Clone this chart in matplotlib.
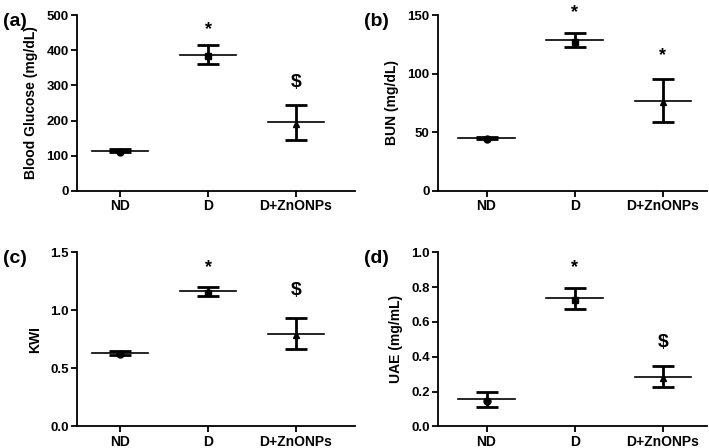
import matplotlib
matplotlib.use('Agg')
import matplotlib.pyplot as plt

plt.rcParams['font.family'] = ['Liberation Sans', 'DejaVu Sans']
plt.rcParams['font.weight'] = 'bold'

groups = ['ND', 'D', 'D+ZnONPs']
markers = ['o', 's', '^']

glucose_mean = [114, 387, 195]
glucose_err = [4, 27, 50]

bun_mean = [45.2, 128.5, 77]
bun_err = [1.2, 6, 18.5]

kwi_mean = [0.632, 1.165, 0.80]
kwi_err = [0.018, 0.04, 0.135]

uae_mean = [0.155, 0.735, 0.286]
uae_err = [0.044, 0.06, 0.058]

sig_a = ['', '*', '$']
sig_a_y = [0, 458, 307]
sig_b = ['', '*', '*']
sig_b_y = [0, 152, 115]
sig_c = ['', '*', '$']
sig_c_y = [0, 1.37, 1.17]
sig_d = ['', '*', '$']
sig_d_y = [0, 0.91, 0.48]

panels = [
    ('(a)', 'Blood Glucose (mg/dL)', glucose_mean, glucose_err, 500, [0, 100, 200, 300, 400, 500],
     ['0', '100', '200', '300', '400', '500'], sig_a, sig_a_y,
     [0.1086, 0.5737, 0.3921, 0.3928], (-0.49, 2.67)),
    ('(b)', 'BUN (mg/dL)', bun_mean, bun_err, 150, [0, 50, 100, 150],
     ['0', '50', '100', '150'], sig_b, sig_b_y,
     [0.6178, 0.5737, 0.3792, 0.3928], (-0.55, 2.5)),
    ('(c)', 'KWI', kwi_mean, kwi_err, 1.5, [0, 0.5, 1.0, 1.5],
     ['0.0', '0.5', '1.0', '1.5'], sig_c, sig_c_y,
     [0.1086, 0.0484, 0.3921, 0.3884], (-0.49, 2.67)),
    ('(d)', 'UAE (mg/mL)', uae_mean, uae_err, 1.0, [0, 0.2, 0.4, 0.6, 0.8, 1.0],
     ['0.0', '0.2', '0.4', '0.6', '0.8', '1.0'], sig_d, sig_d_y,
     [0.6178, 0.0484, 0.3792, 0.3884], (-0.55, 2.5)),
]

fig = plt.figure(figsize=(7.09, 4.48), dpi=100)

for label, ylabel, mean, err, ymax, yticks, ytl, sig, sig_y, pos, xlim in panels:
    ax = fig.add_axes(pos)
    for i in range(3):
        ax.errorbar(i, mean[i], yerr=err[i], fmt='none', ecolor='black',
                    elinewidth=2, capsize=8, capthick=2, zorder=3)
        ax.plot([i - 0.32, i + 0.32], [mean[i], mean[i]], color='black', lw=1.2, zorder=4)
        ax.plot(i, mean[i] - ymax * 0.008, marker=markers[i], color='black', ms=5, zorder=5)
        if sig[i]:
            fs = 14 if sig[i] == '$' else 13
            ax.text(i, sig_y[i], sig[i], ha='center', va='center', fontsize=fs,
                    fontweight='bold', clip_on=False)
    ax.set_xlim(xlim)
    ax.set_ylim(0, ymax)
    ax.set_xticks(range(3))
    ax.set_xticklabels(groups, fontsize=10, fontweight='bold')
    ax.set_yticks(yticks)
    ax.set_yticklabels(ytl, fontsize=9.5, fontweight='bold')
    ax.set_ylabel(ylabel, fontsize=10, fontweight='bold', labelpad=6)
    ax.spines['top'].set_visible(False)
    ax.spines['right'].set_visible(False)
    ax.spines['left'].set_linewidth(1.3)
    ax.spines['bottom'].set_linewidth(1.3)
    ax.tick_params(direction='out', length=4, width=1.3, pad=2)
    fig.text(pos[0] - 0.105, pos[1] + pos[3] + 0.005, label, fontsize=14,
             fontweight='bold', va='top', ha='left')

fig.savefig('out.png', dpi=100)
